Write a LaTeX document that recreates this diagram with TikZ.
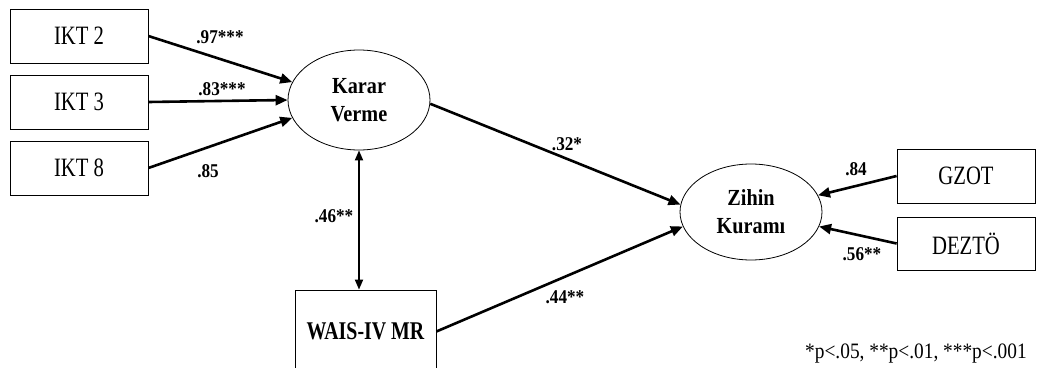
\documentclass[tikz,border=0pt]{standalone}
\usepackage{fontspec}
\setmainfont[FakeStretch=0.88]{Liberation Serif}
\newfontfamily\boxfont[FakeStretch=0.78]{Liberation Serif}
\usetikzlibrary{shapes.geometric,arrows.meta}

\begin{document}
\begin{tikzpicture}[x=1pt,y=-1pt,
			obs/.style={draw, line width=0.8pt, minimum width=138pt, minimum height=54pt,
				inner sep=0pt, font=\boxfont\fontsize{26.5}{30}\selectfont},
			lat/.style={draw, ellipse, line width=0.8pt, minimum width=142pt, minimum height=98pt,
				inner sep=0pt, align=center, font=\fontsize{23}{28}\selectfont\bfseries},
			path/.style={line width=2.6pt, -{Triangle[length=12pt,width=10pt]}},
			corr/.style={line width=1.8pt, {Triangle[length=10pt,width=8pt]}-{Triangle[length=10pt,width=8pt]}},
			coef/.style={anchor=base, font=\fontsize{19.5}{22}\selectfont\bfseries, inner sep=0pt}]
			\useasboundingbox (0,0) rectangle (1038,367);
			\clip (0,0) rectangle (1038,367);
			\node[obs] (ikt2) at (79,36) {IKT 2};
			\node[obs] (ikt3) at (79,102) {IKT 3};
			\node[obs] (ikt8) at (79,168) {IKT 8};
			\node[lat, minimum height=100pt] (karar) at (359,100) {Karar\\Verme};
			\node[lat, minimum height=96pt] (zihin) at (751,212) {Zihin\\Kuramı};
			\node[obs] (gzot) at (966,176) {GZOT};
			\node[obs, minimum height=53pt] (dezto) at (966,243.5) {DEZTÖ};
			\node[obs, minimum width=141pt, minimum height=83pt, font=\boxfont\fontsize{25.5}{30}\selectfont\bfseries]
				(wais) at (365.5,331.5) {WAIS-IV MR};
			\draw[path] (ikt2.east) -- (karar.165);
			\draw[path] (ikt3.east) -- (karar.west);
			\draw[path] (ikt8.east) -- (karar.195);
			\draw[path] (karar.-3) -- (zihin.174);
			\draw[path] (wais.east) -- (zihin.192);
			\draw[path] (gzot.west) -- (zihin.14);
			\draw[path] (dezto.west) -- (zihin.-12);
			\draw[corr] (karar.south) -- (karar.south|-wais.north);
			\node[coef] (c972) at (220,43) {.97***};
			\node[coef] (c833) at (222,95) {.83***};
			\node[coef] (c858) at (208,177) {.85};
			\node[coef] (c32) at (567,150) {.32*};
			\node[coef] (c44) at (565,303) {.44**};
			\node[coef] (c46) at (334,222) {.46**};
			\node[coef] (c84) at (856,175) {.84};
			\node[coef] (c56) at (862,260) {.56**};
			\node[anchor=base west, font=\fontsize{22}{24}\selectfont, inner sep=0pt] (note) at (805,358)
				{*p<.05, **p<.01, ***p<.001};
		\end{tikzpicture}
\end{document}
